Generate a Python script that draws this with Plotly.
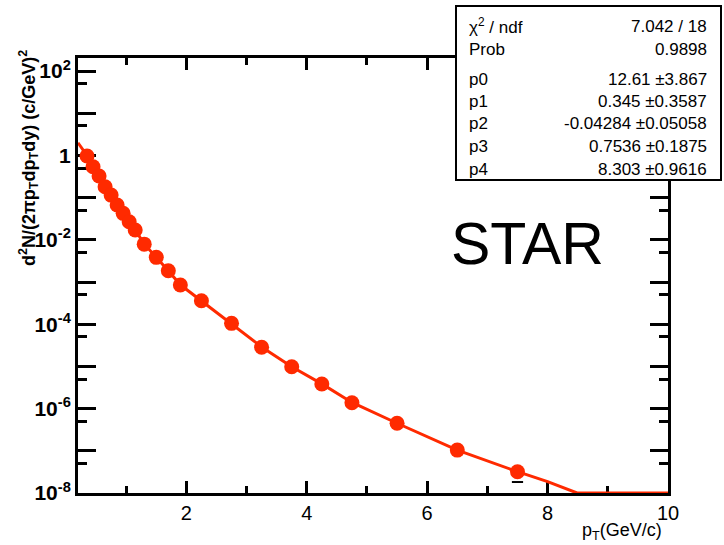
import plotly.graph_objects as go

# ---- data ----
pt = [0.35, 0.45, 0.55, 0.65, 0.75, 0.85, 0.95, 1.05, 1.15, 1.3, 1.5, 1.7, 1.9,
      2.25, 2.75, 3.25, 3.75, 4.25, 4.75, 5.5, 6.5, 7.5]
yield_ = [0.97, 0.54, 0.325, 0.181, 0.115, 0.0668, 0.0425, 0.0268, 0.0171, 7.9e-3,
          3.85e-3, 1.85e-3, 8.5e-4, 3.6e-4, 1.05e-4, 2.84e-5, 9.8e-6, 3.83e-6,
          1.38e-6, 4.49e-7, 1.04e-7, 3.2e-8]
yield_err = [0, 0, 0, 0, 0, 0, 0, 0, 0, 0, 0, 0, 0, 0, 0, 0, 0, 0, 0, 0, 0, 1.38e-8]

fit_x = [0.2, 0.35, 0.45, 0.55, 0.65, 0.75, 0.85, 0.95, 1.05, 1.15, 1.3, 1.5, 1.7,
         1.9, 2.25, 2.75, 3.25, 3.75, 4.25, 4.75, 5.5, 6.5, 7.5, 8.0, 8.49, 10.0]
fit_y = [2.0, 0.99, 0.55, 0.325, 0.183, 0.113, 0.0675, 0.0425, 0.0268, 0.0172, 8.0e-3,
         3.9e-3, 1.85e-3, 8.6e-4, 3.6e-4, 1.05e-4, 2.9e-5, 9.8e-6, 3.85e-6, 1.4e-6,
         4.5e-7, 1.04e-7, 3.2e-8, 1.86e-8, 1.0e-8, 1.0e-8]

x_major = [2, 4, 6, 8, 10]
x_minor = [1, 3, 5, 7, 9]
y_major = [1e-8, 1e-7, 1e-6, 1e-5, 1e-4, 1e-3, 1e-2, 1e-1, 1, 10, 100]
y_major_text = ["10<sup>-8</sup>", "", "10<sup>-6</sup>", "", "10<sup>-4</sup>", "",
                "10<sup>-2</sup>", "", "1", "", "10<sup>2</sup>"]
y_minor = [5e-8, 5e-7, 5e-6, 5e-5, 5e-4, 5e-3, 5e-2, 0.5, 5, 50]

stat_labels = ["χ<sup>2</sup> / ndf", "Prob", "p0", "p1", "p2", "p3", "p4"]
stat_values = ["7.042 / 18", "0.9898", "12.61 ±3.867", "0.345 ±0.3587",
               "-0.04284 ±0.05058", "0.7536 ±0.1875", "8.303 ±0.9616"]
stat_rows_px = [26, 50, 79.5, 101.5, 124, 146, 169]

RED = "#ff2a00"
FONT = "Liberation Sans, Arial, Helvetica, sans-serif"

W, H = 724, 545
L, R, T, B = 78, 56, 58, 52
PW, PH = W - L - R, H - T - B


def px2x(px):
    return (px - L) / PW


def py2y(py):
    return (H - B - py) / PH


# lower ends of the visible error bars
err_x = [x for x, e in zip(pt, yield_err) if e > 0]
err_lo = [y - e for y, e in zip(yield_, yield_err) if e > 0]

fig = go.Figure()
fig.add_trace(go.Scatter(x=err_x, y=err_lo, mode="markers",
                         marker=dict(symbol="line-ew", size=8, color="black",
                                     line=dict(color="black", width=2)),
                         hoverinfo="skip", showlegend=False))
fig.add_trace(go.Scatter(x=fit_x, y=fit_y, mode="lines",
                         line=dict(color=RED, width=3), hoverinfo="skip",
                         showlegend=False))
fig.add_trace(go.Scatter(x=pt, y=yield_, mode="markers",
                         marker=dict(color=RED, size=15, line=dict(width=0)),
                         showlegend=False))

fig.update_layout(
    width=W, height=H,
    margin=dict(l=L, r=R, t=T, b=B),
    paper_bgcolor="white", plot_bgcolor="white",
    font=dict(family=FONT, color="black"),
    showlegend=False,
)
fig.update_xaxes(
    range=[0.2, 10], showgrid=False, zeroline=False,
    showline=True, linecolor="black", linewidth=3, mirror="allticks",
    ticks="inside", tickvals=x_major, ticktext=[str(v) for v in x_major],
    ticklen=12, tickwidth=3, tickcolor="black",
    tickfont=dict(size=20, family=FONT),
    minor=dict(tickvals=x_minor, ticks="inside", ticklen=7, tickwidth=3,
               tickcolor="black", showgrid=False),
    layer="below traces",
)
fig.update_yaxes(
    type="log", range=[-8, 2.31], showgrid=False, zeroline=False,
    showline=True, linecolor="black", linewidth=3, mirror="allticks",
    ticks="inside", tickvals=y_major, ticktext=[f"<b>{t}</b>" if t else "" for t in y_major_text],
    ticklen=18, tickwidth=3, tickcolor="black",
    tickfont=dict(size=21, family=FONT),
    minor=dict(tickvals=y_minor, ticks="inside", ticklen=9, tickwidth=3,
               tickcolor="black", showgrid=False),
    layer="below traces",
)

# stats box
fig.add_shape(type="rect", xref="paper", yref="paper",
              x0=px2x(456), x1=px2x(721), y0=py2y(180), y1=py2y(6),
              fillcolor="white", line=dict(color="black", width=2), layer="above")
for lab, val, ry in zip(stat_labels, stat_values, stat_rows_px):
    fig.add_annotation(x=px2x(467), y=py2y(ry), xref="paper", yref="paper",
                       text=lab, showarrow=False, xanchor="left", yanchor="middle",
                       font=dict(size=17, family=FONT))
    fig.add_annotation(x=px2x(709), y=py2y(ry), xref="paper", yref="paper",
                       text=val, showarrow=False, xanchor="right", yanchor="middle",
                       font=dict(size=17, family=FONT))

fig.add_annotation(x=px2x(449), y=py2y(244), xref="paper", yref="paper",
                   text="STAR", showarrow=False, xanchor="left", yanchor="middle",
                   font=dict(size=59, family=FONT))

fig.add_annotation(x=px2x(664), y=py2y(531), xref="paper", yref="paper",
                   text="p<sub>T</sub>(GeV/c)", showarrow=False, xanchor="right",
                   yanchor="middle", font=dict(size=18, family=FONT))

fig.add_annotation(x=px2x(28), y=py2y(158), xref="paper", yref="paper",
                   text="<b>d<sup>2</sup>N/(2πp<sub>T</sub>dp<sub>T</sub>dy) (c/GeV)<sup>2</sup></b>",
                   showarrow=False, textangle=-90, xanchor="center", yanchor="middle",
                   font=dict(size=18, family=FONT))

fig.write_html("out.html")
